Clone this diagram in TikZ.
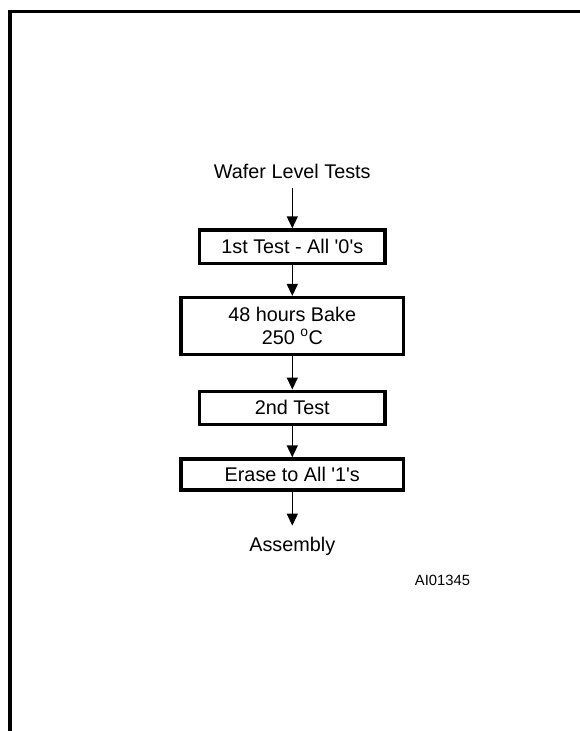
\documentclass[tikz,border=0pt]{standalone}
\usepackage{fontspec}
\setmainfont{Liberation Sans}
\usetikzlibrary{arrows.meta}
\newcommand{\sq}{\textquotesingle}
\begin{document}
\begin{tikzpicture}[x=1pt,y=-1pt,
  stepbox/.style={draw,line width=3.4pt,inner sep=0pt,align=center,
    font=\fontsize{19.8}{22.6}\selectfont},
  lbl/.style={inner sep=0pt,font=\fontsize{19.8}{22.6}\selectfont},
  arr/.style={line width=1.4pt,-{Triangle[length=12pt,width=11pt]}}]
\useasboundingbox (0,0) rectangle (580,731);
% frame
\draw[line width=3.2pt] (580,11.5) -- (10,11.5) -- (10,735);
% labels
\node[lbl,anchor=base] (wafer) at (292.3,178.3) {Wafer Level Tests};
\node[stepbox,minimum width=185.5pt,minimum height=33.3pt] (b1) at (292.3,246.7) {1st Test - All \sq 0\sq s};
\node[stepbox,minimum width=222.3pt,minimum height=56.7pt] (b2) at (292.3,326) {48 hours Bake\\250 \textsuperscript{o}C};
\node[stepbox,minimum width=185.5pt,minimum height=33pt] (b3) at (292.3,407.7) {2nd Test};
\node[stepbox,minimum width=222.3pt,minimum height=31pt] (b4) at (292.3,474.5) {Erase to All \sq 1\sq s};
\node[lbl,anchor=base] (asm) at (292.3,551.7) {Assembly};
\node[inner sep=0pt,anchor=base,font=\fontsize{14.8}{17}\selectfont] (ref) at (442.5,585) {AI01345};
% connectors
\draw[arr] ([yshift=-9.4pt]wafer.base) -- (b1.north);
\draw[arr] (b1.south) -- (b2.north);
\draw[arr] (b2.south) -- (b3.north);
\draw[arr] (b3.south) -- (b4.north);
\draw[arr] (b4.south) -- ([yshift=11.5pt]asm.north);
\end{tikzpicture}
\end{document}
